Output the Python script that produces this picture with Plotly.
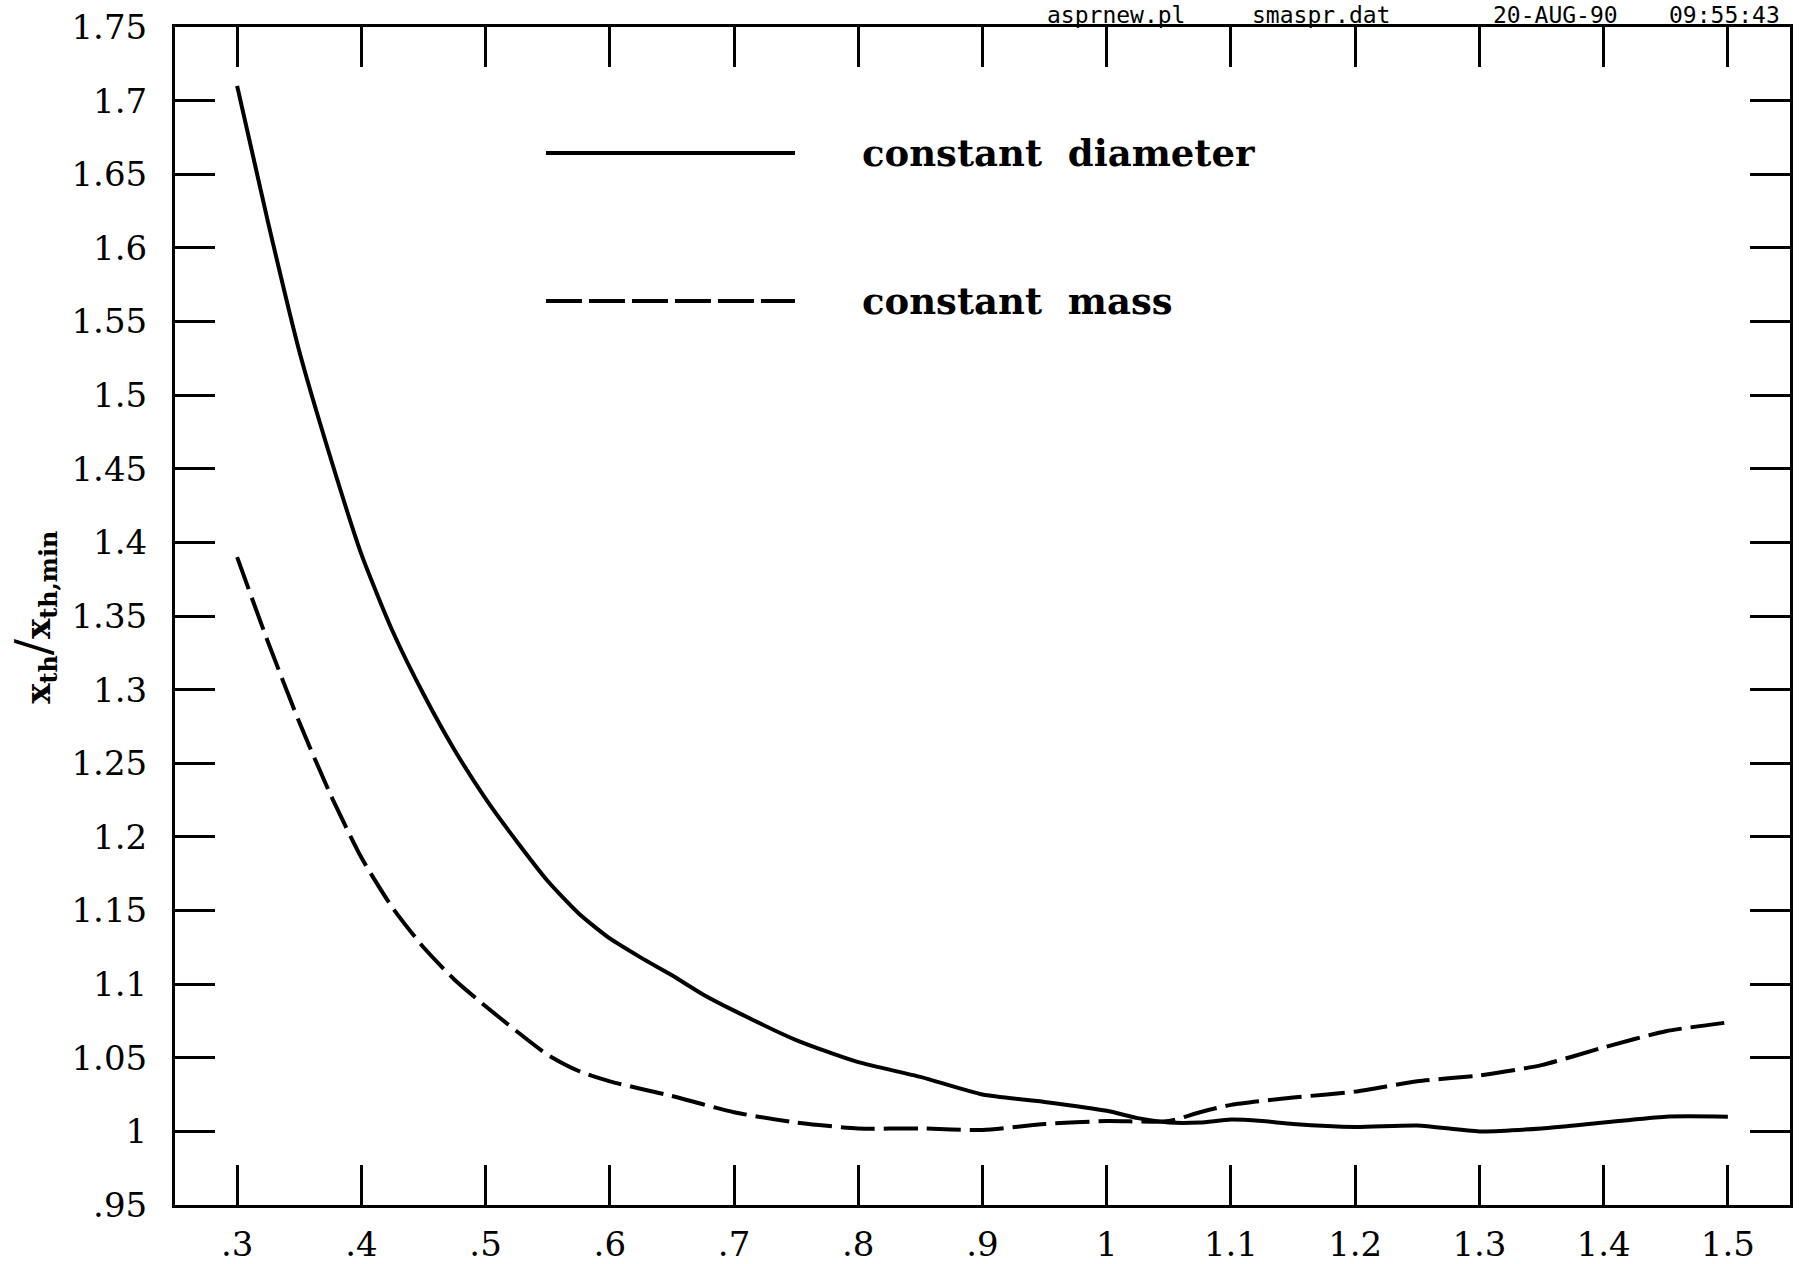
import plotly.graph_objects as go

# Data
x_diam = [0.30, 0.325, 0.35, 0.375, 0.40, 0.425, 0.45, 0.475, 0.50, 0.525, 0.55, 0.575,
          0.60, 0.625, 0.65, 0.675, 0.70, 0.75, 0.80, 0.85, 0.90, 0.95, 1.00, 1.025,
          1.05, 1.075, 1.10, 1.125, 1.15, 1.20, 1.25, 1.30, 1.35, 1.40, 1.45, 1.50]
y_diam = [1.710, 1.617, 1.530, 1.458, 1.392, 1.340, 1.297, 1.259, 1.226, 1.197, 1.170, 1.148,
          1.131, 1.118, 1.106, 1.093, 1.082, 1.062, 1.047, 1.037, 1.025, 1.020, 1.014, 1.009,
          1.006, 1.006, 1.008, 1.007, 1.005, 1.003, 1.004, 1.000, 1.002, 1.006, 1.010, 1.010]

x_mass = [0.30, 0.325, 0.35, 0.375, 0.40, 0.425, 0.45, 0.475, 0.50, 0.525, 0.55, 0.575,
          0.60, 0.65, 0.70, 0.75, 0.80, 0.85, 0.90, 0.95, 1.00, 1.05, 1.075, 1.10,
          1.15, 1.20, 1.25, 1.30, 1.35, 1.40, 1.45, 1.50]
y_mass = [1.390, 1.332, 1.278, 1.229, 1.186, 1.152, 1.125, 1.103, 1.085, 1.068, 1.052, 1.041,
          1.034, 1.024, 1.013, 1.006, 1.002, 1.002, 1.001, 1.005, 1.007, 1.007, 1.013, 1.018,
          1.023, 1.027, 1.034, 1.038, 1.045, 1.057, 1.068, 1.074]

x_tickvals = [0.3, 0.4, 0.5, 0.6, 0.7, 0.8, 0.9, 1.0, 1.1, 1.2, 1.3, 1.4, 1.5]
x_ticktext = [".3", ".4", ".5", ".6", ".7", ".8", ".9", "1", "1.1", "1.2", "1.3", "1.4", "1.5"]
y_tickvals = [0.95, 1.0, 1.05, 1.1, 1.15, 1.2, 1.25, 1.3, 1.35, 1.4, 1.45, 1.5, 1.55,
              1.6, 1.65, 1.7, 1.75]
y_ticktext = [".95", "1", "1.05", "1.1", "1.15", "1.2", "1.25", "1.3", "1.35", "1.4",
              "1.45", "1.5", "1.55", "1.6", "1.65", "1.7", "1.75"]

series_names = ["constant diameter", "constant mass"]
header_texts = ["asprnew.pl", "smaspr.dat", "20-AUG-90", "09:55:43"]

SERIF = "DejaVu Serif"

fig = go.Figure()
fig.add_trace(go.Scatter(x=x_diam, y=y_diam, mode="lines", name=series_names[0],
                         line=dict(color="black", width=4, shape="spline", smoothing=0.6)))
fig.add_trace(go.Scatter(x=x_mass, y=y_mass, mode="lines", name=series_names[1],
                         line=dict(color="black", width=4, shape="spline", smoothing=0.6,
                                   dash="34px,9px")))

axis_common = dict(showline=True, linewidth=3, linecolor="black", mirror="ticks",
                   ticks="inside", tickwidth=3, tickcolor="black", showgrid=False,
                   zeroline=False, automargin=False,
                   tickfont=dict(family=SERIF, size=34, color="black"))

fig.update_xaxes(range=[0.25, 1.55], tickmode="array", tickvals=x_tickvals,
                 ticktext=x_ticktext, ticklen=40, ticklabelstandoff=7, **axis_common)
fig.update_yaxes(range=[0.95, 1.75], tickmode="array", tickvals=y_tickvals,
                 ticktext=y_ticktext, ticklen=40, ticklabelstandoff=18, **axis_common)

# Legend drawn as shapes + annotations
fig.add_shape(type="line", xref="paper", yref="paper", x0=0.2297, x1=0.3839, y0=0.893, y1=0.893,
              line=dict(color="black", width=4))
fig.add_shape(type="line", xref="paper", yref="paper", x0=0.2297, x1=0.3839, y0=0.7674, y1=0.7674,
              line=dict(color="black", width=4, dash="36px,7px"))
for name, yp in zip(series_names, [0.893, 0.7674]):
    fig.add_annotation(text="<b>" + name.replace(" ", "&nbsp;&nbsp;") + "</b>", xref="paper", yref="paper",
                       x=0.4241, y=yp, xanchor="left", yanchor="middle", showarrow=False,
                       font=dict(family=SERIF, size=37, color="black"))

# Header
for t, xp in zip(header_texts, [0.5827, 0.7093, 0.8551, 0.9594]):
    fig.add_annotation(text=t, xref="paper", yref="paper", x=xp, y=1.0105,
                       xanchor="center", yanchor="middle", showarrow=False,
                       font=dict(family="DejaVu Sans Mono", size=23, color="black"))

# Y-axis title
fig.add_annotation(text="<b>x<sub>th</sub></b><span style='font-size:48px;font-weight:normal'>/</span><b>x<sub>th,min</sub></b>",
                   xref="paper", yref="paper", x=-0.0875, y=0.499, textangle=-90,
                   xanchor="center", yanchor="middle", showarrow=False,
                   font=dict(family=SERIF, size=34, color="black"))

fig.update_layout(width=1800, height=1264, margin=dict(l=175, r=10, t=27, b=59, autoexpand=False),
                  paper_bgcolor="white", plot_bgcolor="white", showlegend=False)

fig.write_html("out.html", config={"displayModeBar": False},
               post_script="document.body.style.margin='0px';")
